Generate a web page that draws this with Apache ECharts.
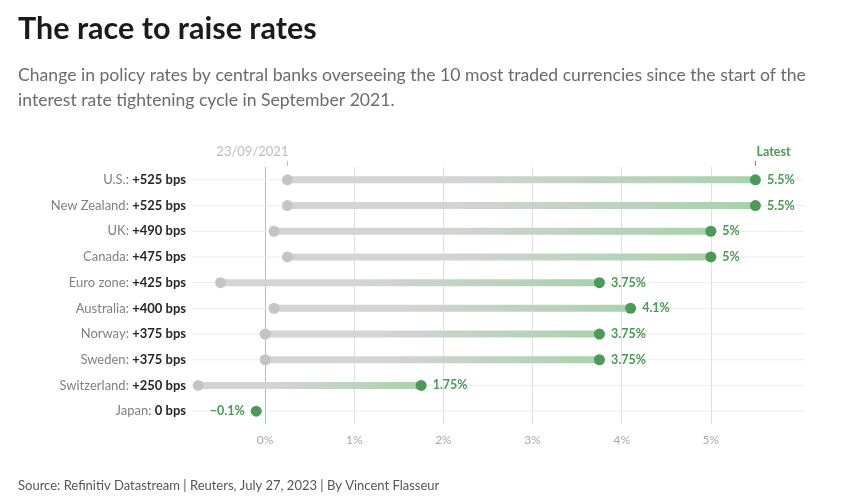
<!DOCTYPE html>
<html>
<head>
<meta charset="utf-8">
<script src="https://cdn.jsdelivr.net/npm/echarts@6/dist/echarts.min.js"></script>
<style>
  html, body { margin: 0; padding: 0; background: #fff; }
  #chart { width: 853px; height: 503px; }
</style>
</head>
<body>
<div id="chart"></div>
<script>
'use strict';
// The race to raise rates - dumbbell chart

const countries = ['U.S.', 'New Zealand', 'UK', 'Canada', 'Euro zone', 'Australia', 'Norway', 'Sweden', 'Switzerland', 'Japan'];
const changeBps = [525, 525, 490, 475, 425, 400, 375, 375, 250, 0];
const startRate = [0.25, 0.25, 0.1, 0.25, -0.5, 0.1, 0, 0, -0.75, -0.1];
const latestRate = [5.5, 5.5, 5, 5, 3.75, 4.1, 3.75, 3.75, 1.75, -0.1];
const startLabel = '23/09/2021';
const latestLabel = 'Latest';

const FONT = 'Lato, "Noto Sans", sans-serif';
const C = {
  title: '#1b1b1b', sub: '#6b6b6b', name: '#808080', bps: '#262626',
  gray: '#c4c4c4', barGray: '#d4d4d4', barGreen: '#a8d2ab', green: '#4a9b55',
  row: '#ececec', grid: '#e0e0e0', zero: '#bababa', tick: '#a9a9a9'
};

const fmtPct = (v) => (v < 0 ? '\u2212' + Math.abs(v) : String(v)) + '%';
const fmtBps = (b) => (b > 0 ? '+' : '') + b + ' bps';

const chart = echarts.init(document.getElementById('chart'));

chart.setOption({
  backgroundColor: '#fff',
  animation: false,
  title: [
    { text: 'The race to raise rates', left: 13, top: 9, textStyle: { fontFamily: FONT, fontSize: 30.5, fontWeight: 'bold', color: C.title } },
    {
      text: 'Change in policy rates by central banks overseeing the 10 most traded currencies since the start of the\ninterest rate tightening cycle in September 2021.',
      left: 13, top: 58,
      textStyle: { fontFamily: FONT, fontSize: 17.6, fontWeight: 'normal', color: C.sub, lineHeight: 25 }
    },
    { text: 'Source: Refinitiv Datastream | Reuters, July 27, 2023 | By Vincent Flasseur', left: 13, top: 474, textStyle: { fontFamily: FONT, fontSize: 13, fontWeight: 'normal', color: '#555' } }
  ],
  grid: { left: 176, right: 53, top: 167, bottom: 79 },
  xAxis: {
    type: 'value', min: -1, max: 6, interval: 1,
    axisLine: { show: false }, axisTick: { show: false },
    axisLabel: { color: C.tick, fontFamily: FONT, fontSize: 12, margin: 10, formatter: (v) => (v < 0 || v > 5 ? '' : v + '%') },
    splitLine: { lineStyle: { width: 1, color: ['rgba(0,0,0,0)', C.zero, C.grid, C.grid, C.grid, C.grid, C.grid, 'rgba(0,0,0,0)'] } }
  },
  yAxis: {
    type: 'category', inverse: true, data: countries,
    axisLine: { show: false }, axisTick: { show: false }, splitLine: { show: false },
    axisLabel: {
      margin: -10,
      formatter: (v, i) => `{n|${v}: }{b|${fmtBps(changeBps[i])}}`,
      rich: {
        n: { fontFamily: FONT, fontSize: 13, color: C.name },
        b: { fontFamily: FONT, fontSize: 13, fontWeight: 'bold', color: C.bps }
      }
    }
  },
  series: [
    {
      // thin row guides
      type: 'custom', silent: true, z: 1,
      data: countries.map((c, i) => [i]),
      encode: { y: 0 },
      renderItem: (params, api) => {
        const i = api.value(0);
        const a = api.coord([-0.82, i]);
        const b = api.coord([6.05, i]);
        return { type: 'line', shape: { x1: a[0], y1: a[1], x2: b[0], y2: b[1] }, style: { stroke: C.row, lineWidth: 1 } };
      }
    },
    {
      // gradient bar from start to latest
      type: 'custom', silent: true, z: 2,
      data: countries.map((c, i) => [startRate[i], latestRate[i], i]),
      encode: { x: [0, 1], y: 2 },
      renderItem: (params, api) => {
        const a = api.coord([api.value(0), api.value(2)]);
        const b = api.coord([api.value(1), api.value(2)]);
        if (Math.abs(b[0] - a[0]) < 1) return null;
        return {
          type: 'line',
          shape: { x1: a[0], y1: a[1], x2: b[0], y2: b[1] },
          style: {
            lineWidth: 7,
            stroke: new echarts.graphic.LinearGradient(a[0], 0, b[0], 0, [
              { offset: 0, color: C.barGray }, { offset: 0.35, color: C.barGray }, { offset: 1, color: C.barGreen }
            ], true)
          }
        };
      }
    },
    {
      type: 'scatter', z: 3, symbolSize: 11, silent: true,
      itemStyle: { color: C.gray, opacity: 1 },
      data: countries.map((c, i) => (startRate[i] === latestRate[i] ? null : [startRate[i], i]))
    },
    {
      type: 'scatter', z: 4, symbolSize: 11, silent: true,
      itemStyle: { color: C.green, opacity: 1 },
      label: {
        show: true, position: 'right', distance: 6,
        fontFamily: FONT, fontSize: 12.5, fontWeight: 'bold', color: C.green,
        formatter: (p) => fmtPct(p.value[0])
      },
      data: countries.map((c, i) => ({
        value: [latestRate[i], i],
        label: latestRate[i] < 0 ? { position: 'left' } : undefined
      }))
    },
    {
      // start / latest annotations above the first row
      type: 'custom', silent: true, z: 5,
      data: [[startRate[0], 0, 0], [latestRate[0], 0, 1]],
      encode: { x: 0, y: 1 },
      renderItem: (params, api) => {
        const p = api.coord([api.value(0), api.value(1)]);
        const isLatest = api.value(2) === 1;
        return {
          type: 'group',
          children: [
            { type: 'line', shape: { x1: p[0], y1: p[1] - 19, x2: p[0], y2: p[1] - 14 }, style: { stroke: isLatest ? C.green : '#bbb', lineWidth: 1 } },
            {
              type: 'text', x: p[0] + 1, y: p[1] - 28,
              style: {
                text: isLatest ? latestLabel : startLabel,
                fill: isLatest ? C.green : '#bdbdbd',
                font: (isLatest ? 'bold 12.5px ' : '13px ') + FONT,
                align: isLatest ? 'left' : 'right', verticalAlign: 'middle'
              }
            }
          ]
        };
      }
    }
  ]
});
</script>
</body>
</html>
